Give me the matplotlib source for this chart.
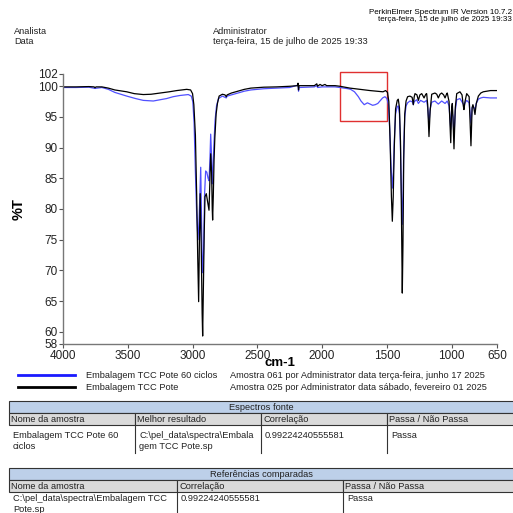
import matplotlib
matplotlib.use("Agg")
import matplotlib.pyplot as plt
from matplotlib.patches import Rectangle

plt.rcParams['font.family'] = ['Liberation Sans', 'DejaVu Sans']

# spectrum 1: Embalagem TCC Pote 60 ciclos (blue)
blue_wn = [4000, 3900, 3800, 3753, 3700, 3650, 3600, 3508, 3440, 3380, 3303, 3250, 3200, 3150,
           3097, 3033, 3010, 2998, 2988, 2978, 2968, 2958, 2950, 2944, 2937, 2932, 2926, 2920,
           2914, 2908, 2899, 2890, 2880, 2873, 2866, 2860, 2854, 2848, 2842, 2834, 2826, 2815,
           2800, 2770, 2740, 2733, 2700, 2650, 2600, 2550, 2450, 2350, 2250, 2186, 2182, 2178,
           2060, 2041, 2035, 2000, 1900, 1862, 1800, 1780, 1750, 1720, 1700, 1675, 1650, 1630,
           1610, 1590, 1570, 1550, 1533, 1515, 1500, 1488, 1478, 1468, 1458, 1450, 1443, 1433,
           1420, 1412, 1403, 1395, 1388, 1381, 1375, 1370, 1362, 1352, 1340, 1322, 1305, 1296,
           1289, 1270, 1257, 1240, 1213, 1193, 1185, 1175, 1166, 1154, 1129, 1103, 1077, 1051,
           1034, 1020, 1007, 1000, 990, 982, 972, 961, 936, 910, 905, 897, 884, 865, 851, 842,
           836, 820, 810, 794, 775, 756, 700, 650]
blue_t = [99.8, 99.8, 99.85, 99.65, 99.8, 99.5, 99.0, 98.4, 98.0, 97.7, 97.6, 97.8, 98.0, 98.3,
          98.5, 98.65, 98.4, 97.5, 94, 86, 79, 75, 78, 82, 86.8, 80, 72, 69.6,
          74, 82, 86.2, 86, 85, 84.6, 88, 92.2, 89, 84.1, 86.5, 91, 94.5, 96.8,
          98, 98.4, 98.1, 98.4, 98.6, 98.9, 99.2, 99.4, 99.6, 99.7, 99.8, 100.2, 99.2, 99.8,
          99.9, 100.1, 99.8, 99.9, 99.9, 99.8, 99.6, 99.5, 99.1, 98.3, 97.6, 97.0, 97.3, 97.1,
          96.9, 97.0, 97.2, 97.7, 98.1, 98.3, 98.0, 97.0, 93, 87, 83.4, 86, 91, 95.5,
          96.7, 96.8, 95.5, 90, 83, 77.5, 82, 90, 95, 96.8, 97.3, 97.6, 97.5, 97.0,
          97.5, 97.8, 97.2, 97.7, 97.4, 97.7, 96.5, 94, 96.3, 97.4, 97.6, 97.1, 97.6, 97.2,
          97.6, 96.8, 93, 96.2, 95, 92, 96, 97.8, 98.0, 97.1, 96.8, 97.3, 97.7, 97.3, 94, 96.5,
          96.8, 96.2, 97.2, 97.9, 98.1, 98.2, 98.1, 98.1]

# spectrum 2: Embalagem TCC Pote (black)
black_wn = [4000, 3900, 3800, 3760, 3753, 3745, 3700, 3650, 3600, 3508, 3450, 3380, 3320, 3251,
            3180, 3122, 3045, 3015, 3000, 2990, 2978, 2968, 2960, 2953, 2947, 2941, 2933, 2926,
            2922, 2917, 2910, 2904, 2894, 2882, 2873, 2866, 2860, 2853, 2848, 2845, 2840, 2834,
            2828, 2818, 2808, 2795, 2770, 2750, 2740, 2733, 2700, 2650, 2600, 2550, 2450, 2350,
            2250, 2190, 2186, 2182, 2178, 2120, 2060, 2041, 2035, 2016, 2000, 1978, 1965, 1900,
            1862, 1785, 1707, 1630, 1560, 1530, 1510, 1495, 1485, 1475, 1465, 1458, 1451, 1443,
            1433, 1420, 1412, 1403, 1395, 1388, 1381, 1376, 1370, 1362, 1352, 1340, 1322, 1305,
            1296, 1289, 1283, 1268, 1257, 1245, 1231, 1213, 1200, 1193, 1185, 1175, 1166, 1154,
            1129, 1115, 1103, 1090, 1077, 1062, 1051, 1040, 1034, 1020, 1007, 1000, 995, 990,
            982, 972, 961, 936, 920, 910, 905, 897, 884, 865, 851, 842, 836, 828, 820, 810,
            794, 775, 756, 700, 650]
black_t = [99.9, 99.9, 99.95, 99.9, 99.75, 99.9, 99.9, 99.7, 99.4, 99.1, 98.8, 98.65, 98.7, 98.9,
           99.1, 99.3, 99.5, 99.4, 98.8, 97.0, 92, 82, 72, 64.9, 75, 82.5, 74, 63,
           59.3, 66, 76, 82, 82.5, 81, 79.8, 85, 89, 86, 80, 78.2, 82, 88,
           91.6, 95.5, 97.2, 98.4, 98.7, 98.6, 98.3, 98.6, 98.9, 99.2, 99.5, 99.7, 99.85, 99.9,
           100.0, 100.1, 100.5, 99.4, 100.1, 100.1, 100.1, 100.4, 100.0, 100.3, 100.1, 100.3, 100.1, 100.1,
           100.0, 99.7, 99.5, 99.3, 99.15, 99.1, 99.3, 99.0, 97.5, 91, 82, 78, 82, 90,
           96.3, 97.7, 97.9, 96.5, 91, 80, 66.3, 74, 88, 95.5, 97.6, 98.3, 98.4, 98.2,
           97.0, 98.3, 98.8, 98.6, 97.7, 98.6, 98.8, 98.1, 98.7, 98.8, 97, 91.8, 96, 98.7,
           98.9, 98.7, 98.1, 98.7, 98.9, 98.6, 98.1, 98.7, 98.9, 97.5, 90.8, 96.5, 97.2, 95,
           89.8, 96.5, 98.8, 99.1, 98.6, 96.8, 96.2, 97.5, 98.8, 98.3, 90.3, 96.5, 97, 96.4, 95.4, 97.2,
           98.4, 98.9, 99.1, 99.3, 99.3]

x_ticks = [4000, 3500, 3000, 2500, 2000, 1500, 1000, 650]
y_ticks = [102, 100, 95, 90, 85, 80, 75, 70, 65, 60, 58]

legend_names = ["Embalagem TCC Pote 60 ciclos", "Embalagem TCC Pote"]
legend_info = ["Amostra 061 por Administrator data terça-feira, junho 17 2025",
               "Amostra 025 por Administrator data sábado, fevereiro 01 2025"]

t1_title = "Espectros fonte"
t1_cols = ["Nome da amostra", "Melhor resultado", "Correlação", "Passa / Não Passa"]
t1_row = ["Embalagem TCC Pote 60\nciclos", "C:\\pel_data\\spectra\\Embala\ngem TCC Pote.sp",
          "0.99224240555581", "Passa"]
t2_title = "Referências comparadas"
t2_cols = ["Nome da amostra", "Correlação", "Passa / Não Passa"]
t2_row = ["C:\\pel_data\\spectra\\Embalagem TCC\nPote.sp", "0.99224240555581", "Passa"]

W = 513
FS = 6.7
TXT = '#222222'
fig = plt.figure(figsize=(5.13, 5.13), dpi=100)

# page overlay in pixel coordinates
pg = fig.add_axes([0, 0, 1, 1])
pg.set_xlim(0, W)
pg.set_ylim(W, 0)
pg.set_axis_off()

pg.text(512, 13, "PerkinElmer Spectrum IR Version 10.7.2", fontsize=5.8, va='center', ha='right')
pg.text(512, 19.5, "terça-feira, 15 de julho de 2025 19:33", fontsize=5.8, va='center', ha='right')
pg.text(14, 31, "Analista", fontsize=FS, va='center', color=TXT)
pg.text(14, 41, "Data", fontsize=FS, va='center', color=TXT)
pg.text(213, 31, "Administrator", fontsize=FS, va='center', color=TXT)
pg.text(213, 41, "terça-feira, 15 de julho de 2025 19:33", fontsize=FS, va='center', color=TXT)

# legend
leg_y = [375, 387]
pg.plot([18, 75], [leg_y[0], leg_y[0]], color='#1a1aff', lw=2)
pg.plot([18, 75], [leg_y[1], leg_y[1]], color='black', lw=2)
for i, yy in enumerate(leg_y):
    pg.text(86, yy, legend_names[i], fontsize=FS, va='center', color=TXT)
    pg.text(230, yy, legend_info[i], fontsize=FS, va='center', color=TXT)


def draw_table(top, title, cols, col_x, row, data_h, text_off):
    right = 516
    left = 9
    rh = 12
    pg.add_patch(Rectangle((left, top), right - left, rh, facecolor='#bdd0e9',
                           edgecolor='#333333', lw=0.8))
    pg.text((left + 513) / 2, top + rh / 2 + 0.5, title, fontsize=FS, ha='center', va='center', color=TXT)
    edges = col_x + [right]
    for j in range(len(cols)):
        pg.add_patch(Rectangle((edges[j], top + rh), edges[j + 1] - edges[j], rh,
                               facecolor='#dadada', edgecolor='#333333', lw=0.8))
        pg.text(edges[j] + 2, top + rh * 1.5 + 0.5, cols[j], fontsize=FS, va='center', color=TXT)
    for j in range(len(row)):
        if j > 0:
            pg.plot([edges[j], edges[j]], [top + 2 * rh, top + 2 * rh + data_h], color='#333333', lw=0.8)
        pg.text(edges[j] + 4, top + 2 * rh + text_off, row[j], fontsize=FS, va='top', color=TXT,
                linespacing=1.25)


draw_table(401, t1_title, t1_cols, [9, 135, 261, 387], t1_row, 28, 6)
draw_table(468, t2_title, t2_cols, [9, 177, 343], t2_row, 22, 2)

# spectrum axes
ax = fig.add_axes([63 / W, 1 - 344 / W, 434 / W, 270 / W])
ax.plot(blue_wn, blue_t, color='#5050ff', lw=0.9)
ax.plot(black_wn, black_t, color='black', lw=0.9)
ax.set_xlim(4000, 650)
ax.set_ylim(58, 102)
ax.set_xticks(x_ticks)
ax.set_yticks(y_ticks)
ax.tick_params(labelsize=8.5, length=3, width=0.8, color='#555555', pad=1, labelcolor=TXT)
for s in ['top', 'right']:
    ax.spines[s].set_visible(False)
for s in ['left', 'bottom']:
    ax.spines[s].set_color('#777777')
    ax.spines[s].set_linewidth(1.0)
ax.set_xlabel("cm-1", fontsize=9.5, fontweight='bold')
ax.set_ylabel("%T", fontsize=10.5, fontweight='bold')
ax.xaxis.set_label_coords(0.5, -0.047)
ax.yaxis.set_label_coords(-0.087, 0.5)
ax.patch.set_alpha(0)

# red highlight box
ax.add_patch(Rectangle((1862, 94.3), 1497 - 1862, 102.3 - 94.3, fill=False,
                       edgecolor='#e03030', lw=1.0, clip_on=False))

fig.savefig("out.png", dpi=100)
